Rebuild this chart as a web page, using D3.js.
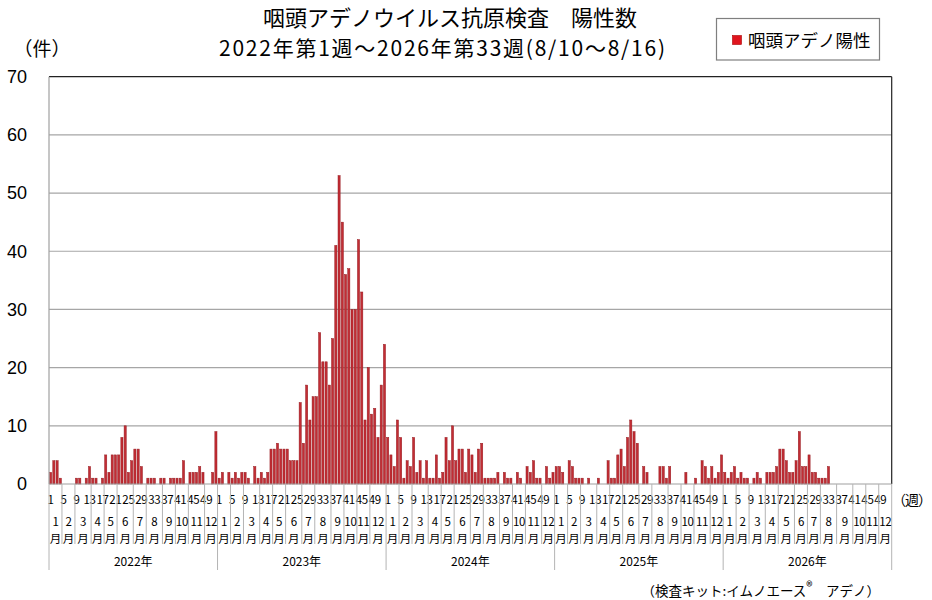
<!DOCTYPE html>
<html>
<head>
<meta charset="utf-8">
<script src="https://cdn.jsdelivr.net/npm/d3@7"></script>
<style>
  html, body { margin: 0; padding: 0; background: #fff; }
  svg { display: block; }
  text { font-family: 'Noto Sans CJK JP', 'Noto Sans', sans-serif; fill: #000; }
</style>
</head>
<body>
<svg id="chart" width="932" height="600"></svg>
<script>
// ---- data ----
const yearLabels = ["2022年", "2023年", "2024年", "2025年", "2026年"];
const weekTickLabels = [1, 5, 9, 13, 17, 21, 25, 29, 33, 37, 41, 45, 49];
const monthLabels = ["1", "2", "3", "4", "5", "6", "7", "8", "9", "10", "11", "12"];
const yTicks = [0, 10, 20, 30, 40, 50, 60, 70];

const weeks2022 = [2,4,4,1,0,0,0,0,1,1,0,1,3,1,1,0,1,5,2,5,5,5,8,10,2,4,6,6,3,0,1,1,1,0,1,1,0,1,1,1,1,4,0,2,2,2,3,2,0,0,2,9];
const weeks2023 = [1,2,0,2,1,2,1,2,2,1,0,3,1,2,1,2,6,6,7,6,6,6,4,4,4,14,7,17,11,15,15,26,21,21,17,25,41,53,45,36,37,30,30,42,33,11,20,12,13,8,17,24];
const weeks2024 = [8,5,3,11,8,1,4,3,8,2,4,1,4,1,1,5,1,2,8,4,10,4,6,6,2,6,5,2,6,7,1,1,1,1,2,0,2,1,1,0,2,1,0,3,2,4,1,1,0,3,1,2];
const weeks2025 = [3,3,2,0,4,3,1,1,1,0,1,0,0,1,0,0,4,1,1,5,6,3,8,11,9,7,0,3,2,0,0,0,3,3,1,3,0,0,0,0,2,0,0,1,0,4,3,1,3,1,2,5];
const weeks2026 = [2,1,2,3,1,2,1,1,0,1,2,1,0,2,2,2,3,6,6,4,2,2,4,9,3,3,5,2,2,1,1,1,3];

const monthWeeks2022 = [4,4,5,4,4,5,4,5,4,4,5,4];
const monthWeeks2023 = [4,4,5,4,4,5,4,5,4,4,4,5];
const monthWeeks2024 = [4,4,5,4,4,5,4,5,4,4,5,4];
const monthWeeks2025 = [4,4,5,4,4,5,4,5,4,4,5,4];
const monthWeeks2026 = [4,4,5,4,5,4,4,5,5,4,4,4];

const seriesName = "咽頭アデノ陽性";
const titleLine1 = "咽頭アデノウイルス抗原検査　陽性数";
const titleLine2 = "2022年第1週～2026年第33週(8/10～8/16)";
const yUnit = "（件）";
const xUnit = "（週）";
const footnote = "（検査キット:イムノエース";
const footnote2 = "　アデノ）";

// ---- build ----
const WEEKS_PER_YEAR = 52;
const weeksByYear = [weeks2022, weeks2023, weeks2024, weeks2025, weeks2026];
const monthsByYear = [monthWeeks2022, monthWeeks2023, monthWeeks2024, monthWeeks2025, monthWeeks2026];

const rows = [];
weeksByYear.forEach((arr, yi) => {
  for (let w = 0; w < WEEKS_PER_YEAR; w++) {
    rows.push({ idx: yi * WEEKS_PER_YEAR + w, year: yi, week: w + 1, value: arr[w] });
  }
});

const svg = d3.select("#chart");
const pLeft = 49, pRight = 891.7, pTop = 76.7, pBottom = 484;

const x = d3.scaleBand()
  .domain(rows.map(d => d.idx))
  .range([pLeft, pRight])
  .paddingInner(0.34)
  .paddingOuter(0.17);
const step = x.step();
const edge = i => pLeft + i * step;

const y = d3.scaleLinear().domain([0, 70]).range([pBottom, pTop]);

svg.append("rect").attr("width", 932).attr("height", 600).attr("fill", "#fff");

// gridlines
svg.append("g").selectAll("line")
  .data(yTicks.filter(t => t > 0 && t < 70))
  .join("line")
  .attr("x1", pLeft).attr("x2", pRight)
  .attr("y1", d => y(d)).attr("y2", d => y(d))
  .attr("stroke", "#a6a6a6").attr("stroke-width", 1.2);

// bars
svg.append("g").selectAll("rect")
  .data(rows.filter(d => d.value !== undefined && d.value > 0))
  .join("rect")
  .attr("x", d => x(d.idx))
  .attr("width", x.bandwidth())
  .attr("y", d => y(d.value))
  .attr("height", d => y(0) - y(d.value))
  .attr("fill", "#c22d34")
  .attr("stroke", "#961a20")
  .attr("stroke-width", 0.5);

// plot frame
svg.append("line").attr("x1", pLeft).attr("x2", pRight).attr("y1", y(70)).attr("y2", y(70))
  .attr("stroke", "#222").attr("stroke-width", 1.2);
svg.append("line").attr("x1", pRight).attr("x2", pRight).attr("y1", y(70)).attr("y2", pBottom)
  .attr("stroke", "#222").attr("stroke-width", 1.2);
svg.append("line").attr("x1", pLeft).attr("x2", pLeft).attr("y1", y(70)).attr("y2", pBottom)
  .attr("stroke", "#a0a0a0").attr("stroke-width", 1.2);
svg.append("line").attr("x1", pLeft).attr("x2", pRight).attr("y1", pBottom).attr("y2", pBottom)
  .attr("stroke", "#a0a0a0").attr("stroke-width", 1.2);

// y axis labels
const yAxis = svg.append("g")
  .attr("transform", `translate(${pLeft},0)`)
  .call(d3.axisLeft(y).tickValues(yTicks).tickSize(0).tickPadding(22));
yAxis.select(".domain").remove();
yAxis.selectAll("text")
  .style("font-family", "'Liberation Sans', 'Noto Sans', sans-serif")
  .style("font-size", "18px").attr("fill", "#000");

// week labels
const weekLabelData = [];
weeksByYear.forEach((arr, yi) => {
  weekTickLabels.forEach(w => weekLabelData.push({ idx: yi * WEEKS_PER_YEAR + w - 1, label: String(w) }));
});
svg.append("g").selectAll("text")
  .data(weekLabelData)
  .join("text")
  .attr("x", d => x(d.idx) + x.bandwidth() / 2)
  .attr("y", 504)
  .attr("text-anchor", "middle")
  .style("font-size", "11.5px")
  .style("letter-spacing", "-0.3px")
  .text(d => d.label);

// month separators and labels
const monthSeps = [];
const monthLabelData = [];
monthsByYear.forEach((counts, yi) => {
  let start = yi * WEEKS_PER_YEAR;
  counts.forEach((c, mi) => {
    if (mi > 0) monthSeps.push(start);
    monthLabelData.push({ mid: start + c / 2, label: monthLabels[mi] });
    start += c;
  });
});
svg.append("g").selectAll("line")
  .data(monthSeps)
  .join("line")
  .attr("x1", d => edge(d)).attr("x2", d => edge(d))
  .attr("y1", pBottom).attr("y2", 544)
  .attr("stroke", "#b4b4b4").attr("stroke-width", 1);

const yearSeps = d3.range(yearLabels.length + 1).map(i => i * WEEKS_PER_YEAR);
svg.append("g").selectAll("line")
  .data(yearSeps)
  .join("line")
  .attr("x1", d => edge(d)).attr("x2", d => edge(d))
  .attr("y1", pBottom).attr("y2", 570)
  .attr("stroke", "#b4b4b4").attr("stroke-width", 1);

const mt = svg.append("g").selectAll("text")
  .data(monthLabelData)
  .join("text")
  .attr("text-anchor", "middle")
  .style("font-size", "11.5px");
mt.append("tspan")
  .attr("x", d => edge(d.mid)).attr("y", 525.5)
  .style("letter-spacing", "-0.3px")
  .text(d => d.label);
mt.append("tspan")
  .attr("x", d => edge(d.mid)).attr("y", 542.5)
  .text("月");

// year labels
svg.append("g").selectAll("text")
  .data(yearLabels)
  .join("text")
  .attr("x", (d, i) => edge(i * WEEKS_PER_YEAR + WEEKS_PER_YEAR / 2))
  .attr("y", 566)
  .attr("text-anchor", "middle")
  .style("font-size", "12px")
  .text(d => d);

// unit labels
svg.append("text").attr("x", 931).attr("y", 505).attr("text-anchor", "end")
  .style("font-size", "14px").style("letter-spacing", "-1px").text(xUnit);
svg.append("text").attr("x", 42).attr("y", 56).attr("text-anchor", "middle")
  .style("font-size", "19px").text(yUnit);

// titles
svg.append("text").attr("x", 450).attr("y", 26).attr("text-anchor", "middle")
  .style("font-size", "22px").text(titleLine1);
svg.append("text").attr("x", 442).attr("y", 56).attr("text-anchor", "middle")
  .style("font-size", "21px")
  .attr("textLength", 446).attr("lengthAdjust", "spacing")
  .text(titleLine2);

// legend
const lg = svg.append("g");
lg.append("rect").attr("x", 716.5).attr("y", 18.5).attr("width", 163).attr("height", 41.5)
  .attr("fill", "#fff").attr("stroke", "#7f7f7f").attr("stroke-width", 1.2);
lg.append("rect").attr("x", 732.5).attr("y", 35.5).attr("width", 9).attr("height", 9)
  .attr("fill", "#e0141e").attr("stroke", "#a00").attr("stroke-width", 0.6);
lg.append("text").attr("x", 748).attr("y", 46.5)
  .style("font-size", "17.5px").text(seriesName);

// footnote
const fn = svg.append("text").attr("x", 880).attr("y", 596).attr("text-anchor", "end")
  .style("font-size", "13.5px");
fn.append("tspan").text(footnote);
fn.append("tspan").attr("dy", -5).style("font-size", "13px").text("®");
fn.append("tspan").attr("dy", 5).text(footnote2);
</script>
</body>
</html>
